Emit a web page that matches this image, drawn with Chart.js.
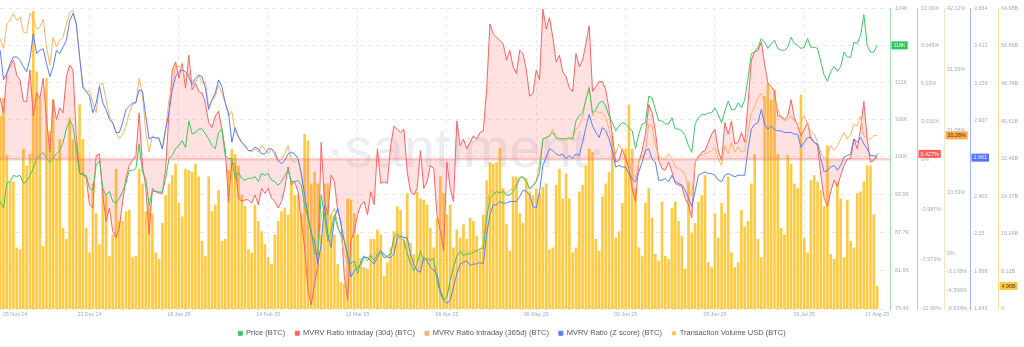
<!DOCTYPE html>
<html>
<head>
<meta charset="utf-8">
<script src="https://cdn.jsdelivr.net/npm/chart.js@4.4.1/dist/chart.umd.min.js"></script>
<style>
html, body { margin: 0; padding: 0; background: #fff; }
#wrap { width: 1024px; height: 347px; position: relative; }
</style>
</head>
<body>
<div id="wrap"><canvas id="chart"></canvas></div>
<script>
// daily values, 25 Nov 24 .. 17 Aug 25 (index = day)
const priceK = [
  92.8,91.7,95.7,96.0,97.0,96.8,97.0,95.7,96.0,97.0,
  98.1,99.7,100.2,100.7,99.7,99.1,99.7,100.5,101.0,102.3,
  104.5,105.8,105.0,101.3,97.3,97.0,97.0,94.9,94.6,98.6,
  99.4,94.9,93.8,94.4,92.8,92.5,93.3,94.4,95.7,97.8,
  97.8,98.1,102.1,97.5,96.5,92.2,94.4,94.4,94.3,94.3,
  96.5,99.7,100.2,101.3,101.8,102.6,101.5,105.8,103.7,103.9,
  104.5,104.5,103.7,102.9,101.8,101.3,103.9,104.5,100.2,99.7,
  99.7,96.5,97.5,96.5,96.2,96.5,96.5,96.8,96.0,97.3,
  97.0,97.3,96.2,96.0,95.4,96.0,97.0,97.8,96.0,96.0,
  96.2,95.4,92.2,90.1,88.0,84.3,84.3,93.8,90.6,86.4,
  88.0,90.6,88.5,87.5,86.4,83.7,82.7,83.2,81.1,83.2,
  84.0,83.2,84.0,83.2,84.3,84.8,83.7,84.0,84.3,86.9,
  87.5,86.9,86.4,84.3,82.7,81.6,82.7,84.8,83.2,83.5,
  83.2,83.5,80.0,77.9,76.8,77.4,80.0,82.2,84.0,84.8,
  84.0,84.3,84.3,84.5,84.8,85.1,85.1,90.1,93.3,93.8,
  94.4,94.1,94.4,93.8,93.8,94.4,95.2,96.5,96.8,96.0,
  94.9,95.4,96.0,97.5,102.9,103.1,103.4,103.9,103.1,102.9,
  102.9,102.9,103.1,102.9,105.8,106.6,107.1,109.2,111.1,107.1,
  107.6,108.7,109.0,108.2,106.6,105.5,104.2,105.0,105.5,105.3,
  104.7,104.2,101.3,103.7,105.3,105.5,109.8,109.5,107.6,105.8,
  105.8,105.3,105.3,106.3,104.5,104.5,104.2,103.4,101.8,100.7,
  105.3,106.3,106.8,106.8,107.1,107.1,107.9,106.8,105.5,107.4,
  109.0,107.6,107.6,108.7,107.9,109.2,112.7,116.7,116.9,117.7,
  119.1,118.5,117.5,118.3,118.8,117.5,117.2,117.2,117.7,119.3,
  118.3,118.0,117.5,117.7,119.1,117.7,117.7,117.5,115.3,113.2,
  112.2,113.8,114.6,113.8,114.6,116.9,116.1,116.1,118.5,118.3,
  119.6,123.0,118.0,116.9,116.9,118.0
];

const mvrv30 = [
  4.89,3.71,6.86,7.39,7.91,6.73,6.34,4.63,4.63,7.13,
  3.45,5.29,4.89,6.47,3.19,0.56,4.76,3.19,4.11,3.71,
  6.6,7.52,7.13,1.88,-1.14,-1.14,-1.54,-3.64,-3.9,0.3,
  0.43,-2.85,-4.95,-3.9,-5.74,-6.26,-5.48,-3.38,-1.54,-0.49,
  -0.09,0.3,3.71,-0.49,-2.33,-6.0,-2.33,-2.59,-2.72,-2.72,
  -0.75,3.71,7.13,7.78,6.47,7.65,5.68,8.31,5.55,6.08,
  5.42,5.29,4.5,2.93,2.53,3.45,3.84,2.4,0.83,-3.38,
  -0.23,-0.49,-3.11,-3.38,-3.24,-3.24,-3.51,-2.85,-3.64,-2.33,
  -2.72,-2.33,-3.11,-3.38,-3.9,-3.38,-2.33,-0.62,-2.06,-1.8,
  -2.59,-4.95,-7.05,-10.46,-11.64,-9.94,-8.63,1.35,-3.38,-4.43,
  -1.28,-1.8,-4.16,-4.95,-9.41,-11.25,-6.53,-5.74,-4.43,-3.64,
  -3.38,-4.43,-2.59,-3.64,0.83,-1.93,-1.8,-1.93,1.09,2.66,
  2.4,2.14,2.4,-1.01,-2.59,-2.85,-2.33,0.69,-2.33,-1.8,
  -0.49,-0.75,-4.43,-5.74,-7.31,-0.23,-2.33,-3.38,3.06,1.09,
  1.61,0.83,1.35,1.88,1.61,2.14,2.27,5.55,10.8,10.01,
  9.75,9.49,9.23,7.91,8.7,7.39,6.86,8.7,8.44,7.13,
  5.03,5.29,7.13,6.34,12.0,10.41,11.33,9.75,7.78,8.31,
  6.99,6.6,5.68,5.42,8.44,7.39,7.91,9.23,10.67,5.42,
  5.81,6.21,6.21,5.55,3.98,1.88,-0.23,-0.09,0.83,0.04,
  -0.75,-2.33,-3.38,-0.23,0.69,2.01,4.37,3.71,2.27,-0.09,
  -0.75,-0.88,-0.23,-1.01,-1.93,-2.06,-2.19,-3.11,-3.64,-4.69,
  -0.23,0.17,0.56,0.69,1.35,2.01,2.4,0.69,-0.09,2.93,
  2.01,3.06,1.22,1.35,2.14,1.35,4.5,7.91,8.57,8.7,
  9.36,7.65,6.08,5.81,5.42,3.45,3.45,3.19,3.45,4.76,
  3.32,2.66,1.88,2.4,2.93,1.61,1.35,1.09,-1.28,-3.11,
  -3.77,-2.59,-1.67,-2.19,-1.28,-0.49,0.04,0.04,1.61,0.83,
  2.4,4.63,1.61,-0.23,-0.09,0.427
];

const mvrv365 = [
  36.87,35.18,39.41,40.09,41.22,39.98,40.65,38.0,37.83,41.22,
  40.26,38.57,38.85,40.26,35.46,32.36,37.16,35.46,36.59,37.16,
  39.41,41.39,41.78,39.41,33.77,28.97,27.84,27.84,25.87,24.17,
  28.97,29.25,26.43,23.61,22.48,20.78,19.66,20.5,21.91,24.17,
  25.58,25.87,30.1,27.28,20.78,17.4,20.22,19.66,19.94,17.96,
  21.35,26.43,28.69,32.36,32.07,32.07,29.82,30.95,29.82,29.25,
  30.66,29.25,29.53,25.3,26.15,27.0,28.97,27.56,25.87,23.61,
  24.45,20.78,20.22,19.09,18.24,17.68,17.4,17.96,17.4,18.53,
  17.96,17.11,17.96,16.83,15.7,16.27,17.11,18.53,15.99,15.7,
  16.27,13.45,9.49,6.67,3.85,1.03,-0.1,6.11,8.36,5.54,
  6.67,7.8,4.98,2.72,-0.1,-1.8,-2.36,-1.8,-1.23,-0.95,
  -0.67,-0.67,-0.1,-0.67,1.03,-0.1,-0.67,-0.67,-0.1,3.0,
  3.57,3.29,2.72,0.18,-1.23,-2.36,-2.92,-1.8,-0.67,-0.95,
  -0.95,-0.67,-4.62,-6.31,-7.72,-7.16,-4.62,-2.36,-0.67,-0.1,
  0.18,-0.1,0.46,0.46,0.46,0.74,1.59,7.8,10.91,10.62,
  10.06,10.91,10.62,10.34,10.91,11.19,12.03,13.16,13.16,12.03,
  10.91,11.47,12.32,15.7,19.66,19.94,20.22,21.35,19.94,19.37,
  19.66,19.37,19.66,19.66,21.35,21.91,23.32,26.43,28.69,23.61,
  24.45,24.17,24.17,23.32,21.35,18.53,17.11,18.81,17.68,16.83,
  15.7,14.01,12.88,15.7,16.55,17.11,22.2,21.91,18.53,16.83,
  16.27,16.27,17.11,16.27,14.86,14.58,14.29,13.45,11.19,10.06,
  15.7,16.83,16.83,17.11,17.4,17.68,18.24,16.27,15.14,18.53,
  17.11,19.09,17.4,18.24,17.4,17.68,20.78,24.17,25.3,26.71,
  27.56,25.87,25.87,25.3,25.87,24.74,23.32,22.76,23.04,23.61,
  22.76,22.2,22.48,23.61,22.2,20.78,20.5,19.09,17.4,16.27,
  16.83,18.53,17.68,18.53,19.66,20.78,19.66,20.5,22.2,21.91,
  23.61,20.22,19.66,19.66,20.22,20.28
];

const zScore = [
  3.382,3.183,3.227,3.293,3.337,3.337,3.315,3.271,3.238,3.326,
  3.492,3.36,3.382,3.393,3.293,3.205,3.271,3.382,3.36,3.404,
  3.448,3.58,3.629,3.558,3.337,3.128,3.106,3.073,2.962,3.029,
  3.139,3.029,2.984,2.918,2.896,2.83,2.83,2.896,2.984,3.006,
  3.029,3.029,3.117,3.106,2.94,2.786,2.797,2.797,2.786,2.72,
  2.852,2.962,3.117,3.205,3.238,3.249,3.238,3.205,3.15,3.194,
  3.216,3.205,3.128,2.984,3.051,3.095,3.183,3.139,3.029,2.962,
  2.764,2.863,2.797,2.764,2.742,2.709,2.709,2.731,2.72,2.686,
  2.686,2.72,2.72,2.698,2.642,2.62,2.642,2.686,2.698,2.686,
  2.653,2.554,2.411,2.278,2.146,2.102,1.947,2.08,2.344,2.146,
  2.058,2.256,2.322,2.212,2.102,2.013,1.859,1.903,1.925,1.947,
  1.991,1.991,1.969,1.947,1.991,2.036,2.013,1.991,1.991,2.013,
  2.124,2.135,2.124,2.124,2.013,1.947,1.903,1.892,1.991,1.969,
  1.925,1.903,1.881,1.771,1.705,1.682,1.705,1.793,1.881,1.947,
  1.958,1.969,1.936,1.947,1.947,1.958,1.947,2.146,2.278,2.344,
  2.344,2.367,2.356,2.356,2.367,2.367,2.367,2.4,2.444,2.433,
  2.411,2.333,2.322,2.433,2.609,2.664,2.72,2.709,2.686,2.675,
  2.686,2.653,2.675,2.653,2.686,2.675,2.764,2.863,2.951,2.874,
  2.83,2.797,2.863,2.841,2.786,2.709,2.598,2.609,2.598,2.598,
  2.554,2.521,2.499,2.565,2.631,2.709,2.72,2.653,2.631,2.51,
  2.51,2.521,2.499,2.543,2.499,2.488,2.477,2.444,2.389,2.333,
  2.433,2.543,2.554,2.565,2.554,2.554,2.543,2.51,2.499,2.543,
  2.554,2.543,2.532,2.543,2.543,2.543,2.72,2.852,2.885,2.896,
  2.984,2.885,2.852,2.874,2.852,2.841,2.841,2.83,2.83,2.83,
  2.819,2.819,2.731,2.764,2.797,2.797,2.764,2.753,2.653,2.565,
  2.576,2.598,2.609,2.576,2.609,2.664,2.675,2.686,2.786,2.764,
  2.797,2.753,2.72,2.675,2.675,2.661
];

const volumeB = [
  41.7,45.6,33.2,27.5,27.5,13.3,12.9,34.6,31.0,33.5,
  64.4,51.3,45.6,13.6,49.9,38.5,45.2,32.5,36.7,17.5,
  15.1,41.3,36.7,35.7,44.2,36.7,17.5,12.2,27.1,20.7,
  14.0,26.1,24.6,11.5,16.1,30.3,19.0,19.0,21.1,21.4,
  11.2,11.5,30.3,27.1,21.1,22.5,20.7,12.2,10.8,18.6,
  24.6,27.1,28.9,31.4,22.9,20.0,30.3,30.0,29.6,31.4,
  28.6,14.7,11.5,28.6,21.1,22.5,25.7,14.7,15.1,30.0,
  34.6,33.5,31.0,24.6,22.2,12.9,12.2,22.5,19.0,16.8,
  14.0,11.2,9.7,16.1,19.0,21.1,21.8,20.4,27.5,24.6,
  24.6,20.4,37.8,36.4,27.1,29.6,27.1,16.1,27.1,27.1,
  20.4,16.1,9.7,5.8,5.5,23.9,23.6,20.7,16.1,10.4,
  9.0,8.7,15.1,15.1,17.2,16.1,7.2,10.1,13.3,16.8,
  22.2,21.4,14.7,25.0,14.3,11.9,25.4,23.9,23.6,22.5,
  17.5,13.3,19.7,28.6,25.0,20.4,22.5,13.3,17.2,15.4,
  18.3,15.1,19.7,19.0,15.8,12.6,20.4,27.8,31.7,31.4,
  31.7,34.9,26.1,18.3,12.6,28.6,28.6,20.7,18.6,28.2,
  25.4,24.6,26.1,25.0,26.4,27.1,12.9,13.3,26.8,30.3,
  23.9,29.3,23.9,12.2,13.3,25.4,26.8,31.0,34.6,33.9,
  15.1,12.6,24.3,27.1,29.6,37.4,15.4,16.8,22.9,34.6,
  44.2,34.6,26.1,13.3,11.5,22.9,26.1,19.7,11.9,10.4,
  23.2,11.5,10.8,21.8,23.2,19.0,15.8,8.7,27.5,16.5,
  18.6,23.2,24.6,28.9,10.1,9.0,20.7,15.4,22.9,20.7,
  28.6,12.2,9.0,10.1,21.4,17.9,19.0,27.1,33.5,15.1,
  11.2,46.0,48.8,45.2,47.4,33.5,17.5,16.1,33.2,31.4,
  27.1,26.1,46.3,15.4,12.2,27.8,28.9,27.5,25.7,22.2,
  35.3,11.9,10.8,27.5,23.9,11.2,23.6,14.7,13.3,25.0,
  25.4,27.5,31.0,31.0,20.4,4.96
];

// x axis: day index of each date label
const xTickDays = [0, 27, 54, 81, 108, 135, 162, 189, 216, 243, 265];
const xTickLabels = ['25 Nov 24', '22 Dec 24', '18 Jan 25', '14 Feb 25', '13 Mar 25', '09 Apr 25',
  '06 May 25', '02 Jun 25', '29 Jun 25', '26 Jul 25', '17 Aug 25'];

// right-hand axes
const priceTicks = [124, 118, 112, 106, 100, 93.9, 87.7, 81.6, 75.4];
const priceTickLabels = ['124K', '118K', '112K', '106K', '100K', '93.9K', '87.7K', '81.6K', '75.4K'];
const mvrv30Ticks = [12.06, 9.045, 6.03, 3.015, 0, -3.987, -7.973, -11.96];
const mvrv30TickLabels = ['12.06%', '9.045%', '6.03%', '3.015%', '0%', '-3.987%', '-7.973%', '-11.96%'];
const mvrv365Ticks = [42.12, 31.59, 21.06, 10.53, 0, -3.178, -6.356, -9.534];
const mvrv365TickLabels = ['42.12%', '31.59%', '21.06%', '10.53%', '0%', '-3.178%', '-6.356%', '-9.534%'];
const zTicks = [3.664, 3.412, 3.159, 2.907, 2.655, 2.402, 2.15, 1.898, 1.645];
const zTickLabels = ['3.664', '3.412', '3.159', '2.907', '2.655', '2.402', '2.15', '1.898', '1.645'];
const volumeTicks = [64.98, 56.86, 48.74, 40.61, 32.49, 24.37, 16.24, 8.12, 0];
const volumeTickLabels = ['64.98B', '56.86B', '48.74B', '40.61B', '32.49B', '24.37B', '16.24B', '8.12B', '0'];

const GREEN = '#3dc763';
const RED = '#ff6161';
const ORANGE = '#ffb264';
const BLUE = '#5a7cff';
const YELLOW = 'rgba(255,196,46,0.9)';
const TICK_COLOR = '#a2aabb';
const FONT = '"Liberation Sans", Arial, sans-serif';

Chart.defaults.font.family = FONT;

const series = arr => arr.map((v, i) => ({ x: i, y: v }));

function rightAxis(min, max, ticks, labels, lineColor, width, weight, pad) {
  return {
    position: 'right',
    min: min,
    max: max,
    weight: weight,
    afterBuildTicks: s => { s.ticks = ticks.map(v => ({ value: v })); },
    afterFit: s => { s.width = width; },
    ticks: { callback: (v, i) => labels[i], padding: pad, color: TICK_COLOR, font: { size: 5.4 } },
    grid: { display: false, drawTicks: false },
    border: { display: true, color: lineColor, width: 1 }
  };
}

const priceAxis = rightAxis(75.4, 124, priceTicks, priceTickLabels, '#9fe2b1', 27, 0, 5);
priceAxis.grid = { display: true, drawTicks: false, color: '#e7e9ef', lineWidth: 1 };
priceAxis.border.dash = [4, 4];

// value tags sitting on each axis, taken from the last point
const lastTags = [
  { axis: 'yPrice', value: priceK[priceK.length - 1], text: v => Math.round(v) + 'K', bg: '#2fc25b', fg: '#ffffff' },
  { axis: 'yMvrv30', value: mvrv30[mvrv30.length - 1], text: v => v.toFixed(3) + '%', bg: '#ff5b5b', fg: '#ffffff' },
  { axis: 'yMvrv365', value: mvrv365[mvrv365.length - 1], text: v => v.toFixed(2) + '%', bg: '#ffad4d', fg: '#4a2f00' },
  { axis: 'yZ', value: zScore[zScore.length - 1], text: v => v.toFixed(3), bg: '#5275ff', fg: '#ffffff' },
  { axis: 'yVolume', value: volumeB[volumeB.length - 1], text: v => v.toFixed(2) + 'B', bg: '#ffcb47', fg: '#4a3600' }
];

const decorations = {
  id: 'decorations',
  beforeDatasetsDraw(chart) {
    const ctx = chart.ctx;
    ctx.save();
    ctx.font = '56px ' + FONT;
    ctx.fillStyle = 'rgba(150,163,196,0.2)';
    ctx.textAlign = 'center';
    ctx.textBaseline = 'alphabetic';
    ctx.fillText('\u00b7santiment\u00b7', 466, 167);
    ctx.restore();
  },
  afterDatasetDraw(chart, args) {
    // zero line of the 30d MVRV, laid over the volume bars
    if (args.index !== 4) return;
    const ctx = chart.ctx;
    const area = chart.chartArea;
    const y = chart.scales.yMvrv30.getPixelForValue(0);
    ctx.save();
    ctx.strokeStyle = 'rgba(240,110,110,0.33)';
    ctx.lineWidth = 2.5;
    ctx.beginPath();
    ctx.moveTo(area.left, y);
    ctx.lineTo(area.right, y);
    ctx.stroke();
    ctx.restore();
  },
  afterDraw(chart) {
    const ctx = chart.ctx;
    const area = chart.chartArea;
    const xs = chart.scales.x;
    ctx.save();
    ctx.font = '5.3px ' + FONT;
    ctx.fillStyle = TICK_COLOR;
    ctx.textBaseline = 'middle';
    xTickDays.forEach((d, i) => {
      const x = xs.getPixelForValue(d);
      const w = ctx.measureText(xTickLabels[i]).width;
      if (x - w / 2 < 3) {
        ctx.textAlign = 'left';
        ctx.fillText(xTickLabels[i], 3, area.bottom + 5.7);
      } else {
        ctx.textAlign = 'center';
        ctx.fillText(xTickLabels[i], x, area.bottom + 5.7);
      }
    });

    ctx.font = '5.4px ' + FONT;
    ctx.textAlign = 'left';
    lastTags.forEach(tag => {
      const scale = chart.scales[tag.axis];
      const y = scale.getPixelForValue(tag.value);
      const label = tag.text(tag.value);
      const w = ctx.measureText(label).width + 4;
      ctx.fillStyle = tag.bg;
      ctx.fillRect(scale.left + 1.5, y - 4, w, 8);
      ctx.fillStyle = tag.fg;
      ctx.fillText(label, scale.left + 3.5, y + 0.3);
    });
    ctx.restore();
  }
};

new Chart(document.getElementById('chart'), {
  type: 'bar',
  data: {
    datasets: [
      {
        type: 'line', label: 'Price (BTC)', data: series(priceK), yAxisID: 'yPrice',
        borderColor: GREEN, backgroundColor: GREEN, borderWidth: 1, pointRadius: 0, order: 1
      },
      {
        type: 'line', label: 'MVRV Ratio Intraday (30d) (BTC)', data: series(mvrv30), yAxisID: 'yMvrv30',
        borderColor: RED, backgroundColor: RED, borderWidth: 1, pointRadius: 0, order: 4,
        fill: { target: 'origin', above: 'rgba(255,91,91,0.18)', below: 'rgba(255,91,91,0.18)' }
      },
      {
        type: 'line', label: 'MVRV Ratio Intraday (365d) (BTC)', data: series(mvrv365), yAxisID: 'yMvrv365',
        borderColor: ORANGE, backgroundColor: ORANGE, borderWidth: 1, pointRadius: 0, order: 3
      },
      {
        type: 'line', label: 'MVRV Ratio (Z score) (BTC)', data: series(zScore), yAxisID: 'yZ',
        borderColor: BLUE, backgroundColor: BLUE, borderWidth: 1, pointRadius: 0, order: 2
      },
      {
        type: 'bar', label: 'Transaction Volume USD (BTC)', data: series(volumeB), yAxisID: 'yVolume',
        backgroundColor: YELLOW, borderWidth: 0, barPercentage: 0.8, categoryPercentage: 1, order: 5
      }
    ]
  },
  options: {
    responsive: true,
    maintainAspectRatio: false,
    animation: false,
    events: [],
    layout: { padding: { top: 4, right: 0, bottom: 0, left: 0 } },
    plugins: {
      tooltip: { enabled: false },
      legend: {
        position: 'bottom',
        labels: {
          boxWidth: 4, boxHeight: 4, padding: 10, color: '#4f5767',
          font: { size: 7.5 },
          sort: (a, b) => a.datasetIndex - b.datasetIndex
        }
      }
    },
    scales: {
      x: {
        type: 'linear', min: -0.06, max: 268.9, offset: false,
        afterBuildTicks: s => { s.ticks = xTickDays.map(v => ({ value: v })); },
        afterFit: s => { s.height = 10.5; },
        ticks: { display: false },
        grid: {
          offset: false, drawTicks: false,
          color: c => (c.index === 0 || c.index === xTickDays.length - 1) ? 'rgba(0,0,0,0)' : '#e7e9ef'
        },
        border: { display: false, dash: [4, 4] }
      },
      yPrice: priceAxis,
      yMvrv30: rightAxis(-11.96, 12.06, mvrv30Ticks, mvrv30TickLabels, '#ffabab', 27, 1, 4),
      yMvrv365: rightAxis(-9.534, 42.12, mvrv365Ticks, mvrv365TickLabels, '#ffe2c4', 26, 2, 3),
      yZ: rightAxis(1.645, 3.664, zTicks, zTickLabels, '#9fb1ff', 28, 3, 4),
      yVolume: rightAxis(0, 64.98, volumeTicks, volumeTickLabels, '#ffe29a', 26, 4, 3)
    }
  },
  plugins: [decorations]
});
</script>
</body>
</html>
